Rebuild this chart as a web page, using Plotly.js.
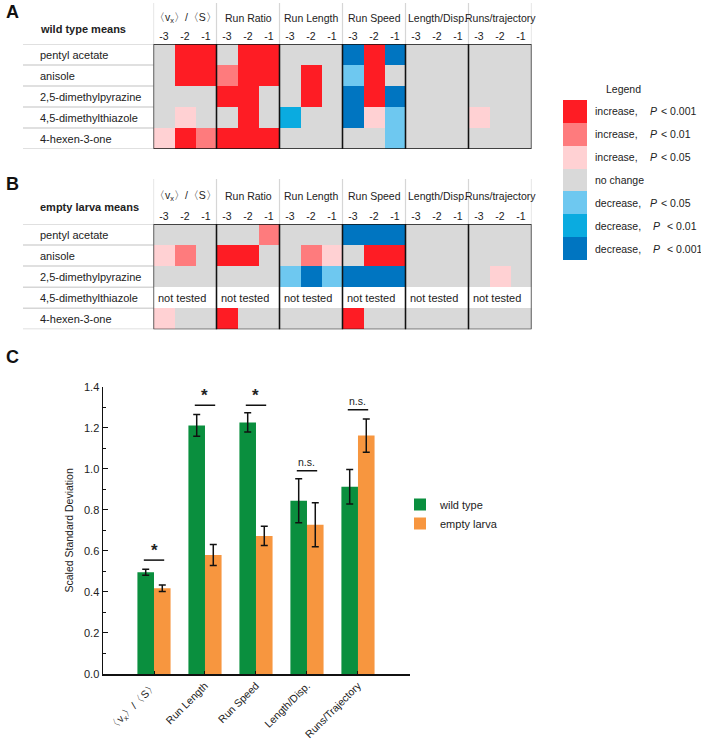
<!DOCTYPE html>
<html>
<head>
<meta charset="utf-8">
<script src="https://cdn.plot.ly/plotly-3.0.1.min.js"></script>
<style>html,body{margin:0;padding:0;background:#fff;}#chart{width:701px;height:740px;}</style>
</head>
<body>
<div id="chart"></div>
<script>
// ---------- data ----------
const odors = ['pentyl acetate','anisole','2,5-dimethylpyrazine','4,5-dimethylthiazole','4-hexen-3-one'];
const blockTitles = ['〈v<sub>x</sub>〉/〈S〉','Run Ratio','Run Length','Run Speed','Length/Disp.','Runs/trajectory'];
const lagLabels = ['-3','-2','-1'];
// codes: 3/2/1 = increase P<0.001/0.01/0.05, 0 = no change, -1/-2/-3 = decrease P<0.05/0.01/0.001, null = not tested
const wildTypeMeans = [
  [0,3,3,   0,3,3,   0,0,0,   -3,3,-3,  0,0,0,  0,0,0],
  [0,3,3,   2,3,3,   0,3,0,   -1,3,0,   0,0,0,  0,0,0],
  [0,0,0,   3,3,0,   0,3,0,   -3,3,-3,  0,0,0,  0,0,0],
  [0,1,0,   0,3,0,   -2,0,0,  -3,1,-1,  0,0,0,  1,0,0],
  [1,3,2,   3,3,3,   0,0,0,   0,0,-1,   0,0,0,  0,0,0]
];
const emptyLarvaMeans = [
  [0,0,0,   0,0,2,   0,0,0,   -3,-3,-3, 0,0,0,  0,0,0],
  [1,2,0,   3,3,0,   0,2,1,   0,3,3,    0,0,0,  0,0,0],
  [0,0,0,   0,0,0,   -1,-3,-1,-3,-3,-3, 0,0,0,  0,1,0],
  [null,null,null,null,null,null,null,null,null,null,null,null,null,null,null,null,null,null],
  [1,0,0,   3,0,0,   0,0,0,   3,0,0,    0,0,0,  0,0,0]
];
const legendCodes = [3,2,1,0,-1,-2,-3];
const legendWords = ['increase,','increase,','increase,','no change','decrease,','decrease,','decrease,'];
const legendP = ['< 0.001','< 0.01','< 0.05','','< 0.05','< 0.01','< 0.001'];

const barCategories = ['〈v<sub>x</sub>〉/〈S〉','Run Length','Run Speed','Length/Disp.','Runs/Trajectory'];
const wildTypeSD = [0.496, 1.211, 1.226, 0.844, 0.912];
const wildTypeErr = [0.015, 0.053, 0.047, 0.107, 0.084];
const emptyLarvaSD = [0.418, 0.580, 0.673, 0.727, 1.162];
const emptyLarvaErr = [0.016, 0.051, 0.047, 0.107, 0.081];
const sigLabels = ['*','*','*','n.s.','n.s.'];
const sigLevels = [0.555, 1.31, 1.31, 0.99, 1.288];

// ---------- styling ----------
const W = 701, H = 740;
const px = v => v / W;
const py = v => 1 - v / H;
const FONT = 'Liberation Sans, Arial, sans-serif';
const TXT = '#222';
const FS = 10.5;
const cols = ['#0075c1','#0aabe0','#6ec8f0','#d9d9d9','#ffd1d3','#fe7b7d','#fe1c24']; // -3..3
const cscale = [];
cols.forEach((c,i)=>{ cscale.push([i/7,c]); cscale.push([(i+1)/7,c]); });

const nCols = blockTitles.length * lagLabels.length;
const colIdx = Array.from({length:nCols},(_,i)=>i);
const rowIdx = odors.map((_,i)=>i);
const colText = colIdx.map(i=>lagLabels[i % 3]);

const gridX0 = 153.5, gridX1 = 531.5;
const panels = [
  {z: wildTypeMeans, xa:'x', ya:'y', top:44, bot:149, headTop:3, titleY:18, name:'wild type means', nameY:29, letter:'A', letterY:12},
  {z: emptyLarvaMeans, xa:'x2', ya:'y2', top:224, bot:329.3, headTop:179, titleY:196, name:'empty larva means', nameY:207, letter:'B', letterY:184}
];

const traces = [];
const shapes = [];
const annotations = [];

panels.forEach(p => {
  traces.push({
    type:'heatmap', z:p.z, x:colIdx, y:rowIdx, xaxis:p.xa, yaxis:p.ya,
    colorscale:cscale, zmin:-3.5, zmax:3.5, showscale:false, hoverinfo:'skip'
  });
  for (let b=0;b<=blockTitles.length;b++){
    shapes.push({type:'line', xref:p.xa, yref:'paper', x0:b*3-0.5, x1:b*3-0.5, y0:py(p.top), y1:py(p.headTop),
      line:{color:'#d6d6d6', width:1.2}});
  }
  for (let r=0;r<=odors.length;r++){
    shapes.push({type:'line', xref:'paper', yref:p.ya, x0:px(23), x1:px(gridX0), y0:r-0.5, y1:r-0.5,
      line:{color:'#d6d6d6', width:1.5}});
  }
  for (let b=0;b<blockTitles.length;b++){
    shapes.push({type:'rect', xref:p.xa, yref:p.ya, x0:b*3-0.5, x1:b*3+2.5, y0:-0.5, y1:odors.length-0.5,
      line:{color:'#111', width:1.3}});
    annotations.push({xref:p.xa, yref:'paper', x:b*3+1, y:py(p.titleY), text:blockTitles[b], showarrow:false,
      font:{family:FONT, size:FS, color:TXT}, xanchor:'center', yanchor:'middle'});
  }
  odors.forEach((o,r)=>{
    annotations.push({xref:'paper', yref:p.ya, x:px(38), y:r, text:o, showarrow:false, xanchor:'left', yanchor:'middle',
      font:{family:FONT, size:FS+0.5, color:TXT}});
    if (p.z[r].every(v=>v===null)) {
      for (let b=0;b<blockTitles.length;b++){
        annotations.push({xref:p.xa, yref:p.ya, x:b*3+0.85, y:r, text:'not tested', showarrow:false,
          font:{family:FONT, size:FS+0.5, color:TXT}, xanchor:'center', yanchor:'middle'});
      }
    }
  });
  annotations.push({xref:'paper', yref:'paper', x:px(38), y:py(p.nameY), text:'<b>'+p.name+'</b>', showarrow:false,
    xanchor:'left', yanchor:'middle', font:{family:FONT, size:FS+0.5, color:TXT}});
  annotations.push({xref:'paper', yref:'paper', x:px(4), y:py(p.letterY), text:'<b>'+p.letter+'</b>', showarrow:false,
    xanchor:'left', yanchor:'middle', font:{family:FONT, size:18, color:'#111'}});
});

// colour legend
traces.push({type:'heatmap', z:legendCodes.map(v=>[v]), x:[0], y:legendCodes.map((_,i)=>i), xaxis:'x4', yaxis:'y4',
  colorscale:cscale, zmin:-3.5, zmax:3.5, showscale:false, hoverinfo:'skip'});
annotations.push({xref:'paper', yref:'paper', x:px(643), y:py(81), text:'Legend', showarrow:false,
  font:{family:FONT, size:FS, color:TXT}});
legendCodes.forEach((c,i)=>{
  annotations.push({xref:'paper', yref:'y4', x:px(593), y:i, text:legendWords[i], showarrow:false, xanchor:'left',
    font:{family:FONT, size:FS, color:TXT}});
  if (legendP[i]) {
    const shift = (i>=5) ? 3 : 0;
    annotations.push({xref:'paper', yref:'y4', x:px(648+shift), y:i, text:'<i>P</i>', showarrow:false, xanchor:'left',
      font:{family:FONT, size:FS, color:TXT}});
    annotations.push({xref:'paper', yref:'y4', x:px(659+shift*2), y:i, text:legendP[i], showarrow:false, xanchor:'left',
      font:{family:FONT, size:FS, color:TXT}});
  }
});

// bar chart
const barX = barCategories.map((_,i)=>i);
traces.push({type:'bar', name:'wild type', x:barX, y:wildTypeSD, xaxis:'x3', yaxis:'y3',
  marker:{color:'#0a8f3e'}, error_y:{type:'data', array:wildTypeErr, color:'#111', thickness:1.5, width:3.5}, hoverinfo:'skip'});
traces.push({type:'bar', name:'empty larva', x:barX, y:emptyLarvaSD, xaxis:'x3', yaxis:'y3',
  marker:{color:'#f7963f'}, error_y:{type:'data', array:emptyLarvaErr, color:'#111', thickness:1.5, width:3.5}, hoverinfo:'skip'});
sigLabels.forEach((s,i)=>{
  shapes.push({type:'line', xref:'x3', yref:'y3', x0:i-0.2, x1:i+0.2, y0:sigLevels[i], y1:sigLevels[i], line:{color:'#111', width:1.5}});
  annotations.push({xref:'x3', yref:'y3', x:i, y:sigLevels[i], text: s==='*' ? '<b>*</b>' : s, showarrow:false, yanchor:'bottom',
    yshift: s==='*' ? -2 : 1, font:{family:FONT, size: s==='*' ? 17 : FS, color:TXT}});
});
annotations.push({xref:'paper', yref:'paper', x:px(4), y:py(357), text:'<b>C</b>', showarrow:false,
  xanchor:'left', yanchor:'middle', font:{family:FONT, size:18, color:'#111'}});

const hidden = {visible:false, showgrid:false, zeroline:false, fixedrange:true};
const layout = {
  width:W, height:H, margin:{l:0,r:0,t:0,b:0}, paper_bgcolor:'#fff', plot_bgcolor:'rgba(0,0,0,0)',
  font:{family:FONT, size:FS, color:TXT},
  showlegend:true,
  legend:{x:px(400), y:py(490), xanchor:'left', yanchor:'top', font:{family:FONT, size:FS+0.5, color:TXT}, bgcolor:'rgba(0,0,0,0)', tracegroupgap:2},
  xaxis:{domain:[px(gridX0),px(gridX1)], range:[-0.5,nCols-0.5], anchor:'y', side:'top', tickvals:colIdx, ticktext:colText,
    ticks:'', ticklabelstandoff:1, showline:false, showgrid:false, zeroline:false, tickfont:{family:FONT,size:FS,color:TXT}, fixedrange:true},
  yaxis:Object.assign({domain:[py(149),py(44)], range:[odors.length-0.5,-0.5], anchor:'x'}, hidden),
  xaxis2:{domain:[px(gridX0),px(gridX1)], range:[-0.5,nCols-0.5], anchor:'y2', side:'top', tickvals:colIdx, ticktext:colText,
    ticks:'', ticklabelstandoff:1, showline:false, showgrid:false, zeroline:false, tickfont:{family:FONT,size:FS,color:TXT}, fixedrange:true},
  yaxis2:Object.assign({domain:[py(329.3),py(224)], range:[odors.length-0.5,-0.5], anchor:'x2'}, hidden),
  xaxis3:{domain:[px(103),px(410)], range:[-1,5.02], anchor:'y3', tickvals:barX, ticktext:barCategories, tickangle:-45,
    ticks:'inside', ticklen:3, tickcolor:'#111', showline:true, linecolor:'#111', linewidth:1.5, showgrid:false, zeroline:false,
    tickfont:{family:FONT,size:FS,color:TXT}, fixedrange:true},
  yaxis3:{domain:[py(674),py(386.7)], range:[0,1.4], anchor:'x3', tickvals:[0,0.2,0.4,0.6,0.8,1.0,1.2,1.4],
    ticktext:['0.0','0.2','0.4','0.6','0.8','1.0','1.2','1.4'], ticks:'inside', ticklen:5, tickcolor:'#111',
    minor:{tickvals:[0.1,0.3,0.5,0.7,0.9,1.1,1.3], ticks:'inside', ticklen:3, tickcolor:'#111'},
    showline:true, linecolor:'#111', linewidth:1.5, showgrid:false, zeroline:false,
    title:{text:'Scaled Standard Deviation', font:{family:FONT,size:FS,color:TXT}, standoff:8},
    tickfont:{family:FONT,size:FS+0.5,color:TXT}, fixedrange:true},
  xaxis4:Object.assign({domain:[px(563),px(587)], range:[-0.5,0.5], anchor:'y4'}, hidden),
  yaxis4:Object.assign({domain:[py(260),py(100)], range:[legendCodes.length-0.5,-0.5], anchor:'x4'}, hidden),
  barmode:'group', bargap:0.35, bargroupgap:0,
  shapes:shapes, annotations:annotations
};
Plotly.newPlot('chart', traces, layout, {staticPlot:true, displayModeBar:false});
</script>
</body>
</html>
